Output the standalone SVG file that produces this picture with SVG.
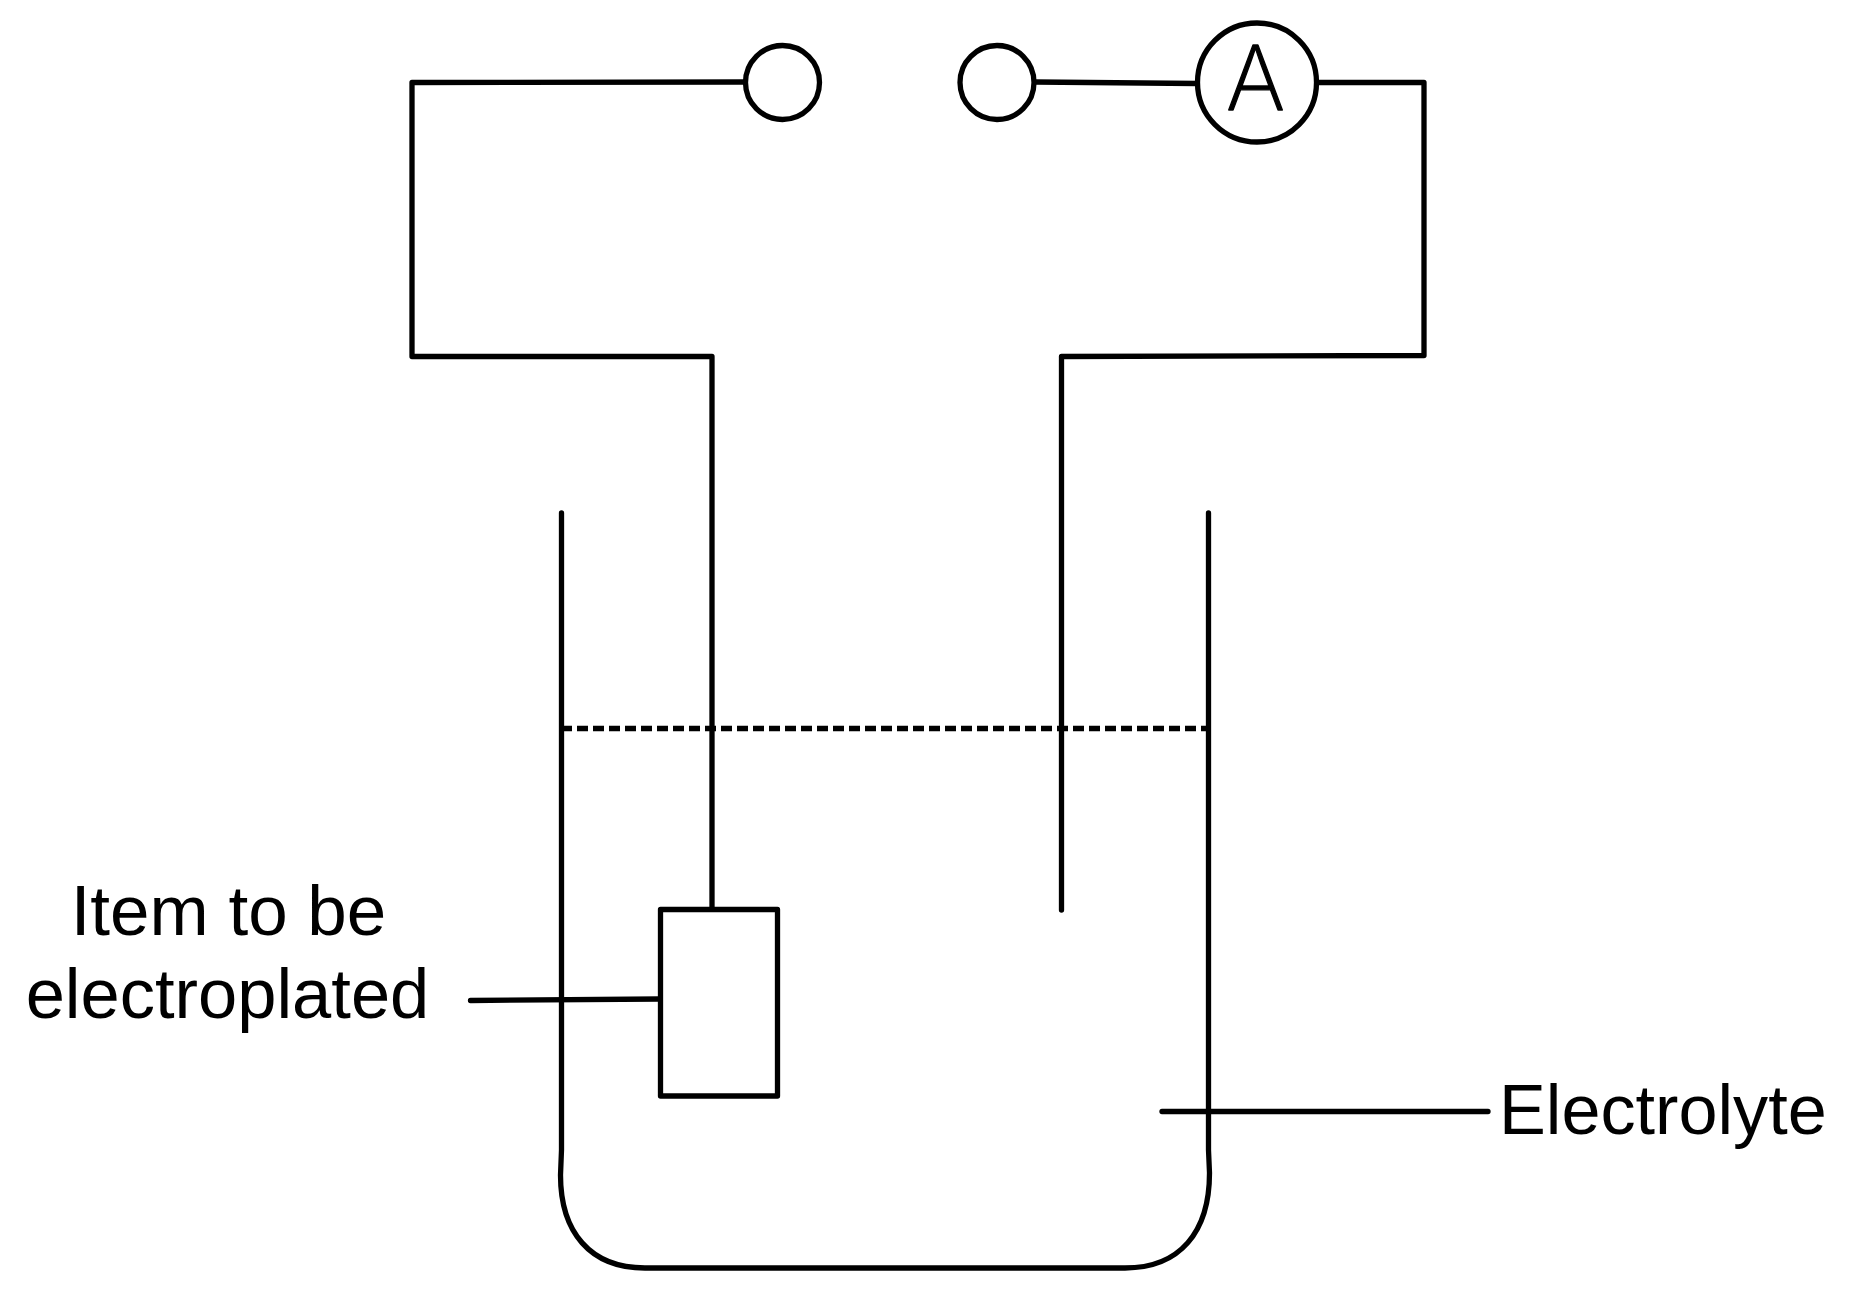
<svg xmlns="http://www.w3.org/2000/svg" width="1856" height="1313" viewBox="0 0 1856 1313">
<style>
.w{fill:none;stroke:#000;stroke-width:5.3;stroke-linecap:round;stroke-linejoin:round}
.t{font-family:"Liberation Sans",Arial,sans-serif;font-size:70.5px;fill:#000}
</style>
<rect width="1856" height="1313" fill="#fff"/>
<g id="connectors">
<path class="w" d="M745 82 L412 82.5 V356.5 H712 V909"/>
<path class="w" d="M1035 82 L1197 83.5"/>
<path class="w" d="M1319 82.5 H1424 V355.5 L1061.5 356.5 V910"/>
<path class="w" d="M470.5 1000.5 L660 999"/>
<path class="w" d="M1162 1111.5 H1488"/>
</g>
<g id="beaker"><path class="w" d="M561.5 513 V1150 L560.5 1175 C560.5 1232 590 1268 645 1268 H1125 C1180 1268 1209.5 1232 1209.5 1173 L1208.5 1150 V513"/></g>
<g id="level"><path class="w" style="stroke-linecap:butt" stroke-dasharray="11 5" d="M561 728.5 H1208"/></g>
<g id="terminal-left"><circle class="w" cx="782.5" cy="82.5" r="37"/></g>
<g id="terminal-right"><circle class="w" cx="997" cy="82.5" r="37"/></g>
<g id="ammeter"><circle class="w" cx="1257" cy="82.5" r="59.5"/>
<text x="1255.5" y="109.5" text-anchor="middle" font-family="Inter,Roboto,sans-serif" font-weight="200" font-size="90" stroke="#000" stroke-width="1.3" stroke-linejoin="round">A</text></g>
<g id="item"><rect class="w" x="660.5" y="909.5" width="117" height="186.5"/>
<text class="t" x="228.5" y="935" text-anchor="middle" style="font-size:71px">Item to be</text>
<text class="t" x="227.5" y="1018" text-anchor="middle">electroplated</text></g>
<g id="electrolyte"><text class="t" x="1499" y="1134" style="font-size:70.2px">Electrolyte</text></g>
</svg>
